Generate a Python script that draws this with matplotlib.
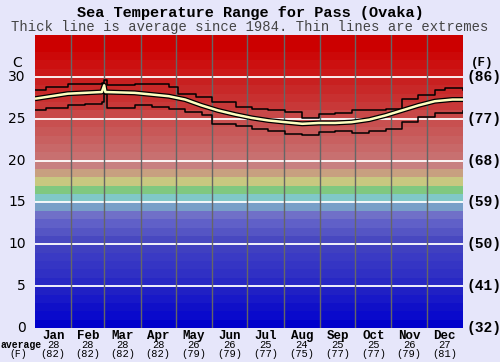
import matplotlib
matplotlib.use("Agg")
import matplotlib.pyplot as plt
import numpy as np

# --- data ---
months = ["Jan", "Feb", "Mar", "Apr", "May", "Jun", "Jul", "Aug", "Sep", "Oct", "Nov", "Dec"]
month_days = [31, 28, 31, 30, 31, 30, 31, 31, 30, 31, 30, 31]
avg_c = [28, 28, 28, 28, 26, 26, 25, 24, 25, 25, 26, 27]
avg_f = [82, 82, 82, 82, 79, 79, 77, 75, 77, 77, 79, 81]

avg_day = [0, 28, 57, 59, 60, 85, 114, 128, 142, 156, 171, 185, 199, 213, 228, 242,
           256, 270, 285, 299, 313, 327, 341, 356, 365]
avg_temp = [27.4, 28.0, 28.2, 29.0, 28.2, 28.1, 27.7, 27.3, 26.6, 26.0, 25.5, 25.1,
            24.8, 24.6, 24.4, 24.5, 24.5, 24.6, 24.9, 25.4, 26.0, 26.6, 27.1, 27.3, 27.3]

max_day = [0, 9, 28, 57, 59, 61, 71, 85, 114, 122, 137, 151, 171, 185, 199, 213,
           228, 242, 256, 270, 285, 299, 313, 327, 341, 350, 365]
max_temp = [28.4, 28.8, 29.2, 29.3, 29.6, 29.0, 29.0, 29.2, 28.8, 28.0, 27.6, 27.0,
            26.4, 26.2, 26.0, 25.8, 25.1, 25.6, 25.7, 26.0, 26.1, 26.2, 27.4, 27.8,
            28.4, 28.7, 28.4]

min_day = [0, 9, 28, 43, 57, 59, 61, 71, 85, 100, 114, 128, 142, 151, 171, 185, 199,
           213, 228, 242, 256, 270, 285, 299, 313, 327, 341, 365]
min_temp = [26.0, 26.3, 26.6, 26.8, 27.0, 28.0, 26.3, 26.3, 26.6, 26.4, 26.2, 25.8,
            25.4, 24.4, 24.1, 23.8, 23.5, 23.2, 23.1, 23.4, 23.5, 23.3, 23.6, 23.8,
            24.6, 25.2, 25.7, 25.9]

# colour of each 1-degree band, from 0 C upward
band_colors = ["#0000cc", "#0a0acc", "#1010c8", "#1818c8", "#2020c4", "#2828c4",
               "#3030c4", "#3535c4", "#3a3ac4", "#4040c0", "#4848c0", "#5555c4",
               "#6060c8", "#7070c8", "#78a0c8", "#80c8c8", "#80c880", "#c8c880",
               "#c8a080", "#c88080", "#c87070", "#c86868", "#c86060", "#c85858",
               "#c85050", "#c84848", "#c83838", "#c83030", "#c82828", "#c82020",
               "#cc1818", "#cc1010", "#cc0808", "#cc0000", "#cc0000"]

bg = "#e6e6fa"
mono = ["Liberation Mono", "DejaVu Sans Mono"]

fig = plt.figure(figsize=(5, 3.62), dpi=100, facecolor=bg)
ax = fig.add_axes([0.07, 0.094, 0.856, 0.809])
ax.set_xlim(0, 365)
ax.set_ylim(0, 35)

for i, c in enumerate(band_colors):
    ax.axhspan(i, i + 1, color=c, lw=0, zorder=0)

for t in range(5, 35, 5):
    ax.axhline(t, color="white", lw=1.3, zorder=1)

edges = np.cumsum([0] + month_days)
for e in edges[1:-1]:
    ax.axvline(e, color="#666666", lw=1, zorder=1)

ax.plot(max_day, max_temp, color="black", lw=1.1, drawstyle="steps-post", zorder=3)
ax.plot(min_day, min_temp, color="black", lw=1.1, drawstyle="steps-post", zorder=3)
ax.plot(avg_day, avg_temp, color="black", lw=3.6, zorder=4, solid_capstyle="butt")
ax.plot(avg_day, avg_temp, color="#ffffc0", lw=1.8, zorder=5, solid_capstyle="butt")

for s in ax.spines.values():
    s.set_visible(False)
ax.set_xticks([])
ax.set_yticks([])

# left axis labels (C)
for t in range(0, 35, 5):
    ax.text(-8, t, str(t), ha="right", va="center", fontsize=10, color="black",
            family="DejaVu Sans", clip_on=False)
ax.text(-15, 31.7, "C", ha="center", va="center", fontsize=10,
        family="DejaVu Sans", clip_on=False)

# right axis labels (F)
for t in range(0, 35, 5):
    f = round(t * 9 / 5 + 32)
    ax.text(368, t, f"({f})", ha="left", va="center", fontsize=10.5,
            family=mono, weight="bold", clip_on=False)
ax.text(381, 31.7, "(F)", ha="center", va="center", fontsize=9,
        family=mono, weight="bold", clip_on=False)

# month labels and averages
centers = (edges[:-1] + edges[1:]) / 2
for m, cx, c, f in zip(months, centers, avg_c, avg_f):
    ax.text(cx, -0.9, m, ha="center", va="center", fontsize=9, family=mono,
            weight="bold", clip_on=False)
    ax.text(cx, -2.05, str(c), ha="center", va="center", fontsize=7.5, family=mono,
            clip_on=False)
    ax.text(cx, -3.1, f"({f})", ha="center", va="center", fontsize=7.5, family=mono,
            clip_on=False)
ax.text(-11.5, -2.05, "average", ha="center", va="center", fontsize=7, family=mono,
        weight="bold", clip_on=False)
ax.text(-14.5, -3.1, "(F)", ha="center", va="center", fontsize=7, family=mono,
        clip_on=False)

fig.text(0.5, 0.964, "Sea Temperature Range for Pass (Ovaka)", ha="center", va="center",
         fontsize=11, family=mono, weight="bold")
fig.text(0.5, 0.925, "Thick line is average since 1984. Thin lines are extremes",
         ha="center", va="center", fontsize=10, family=mono, color="#444444")

fig.savefig("out.png", dpi=100, facecolor=bg)
